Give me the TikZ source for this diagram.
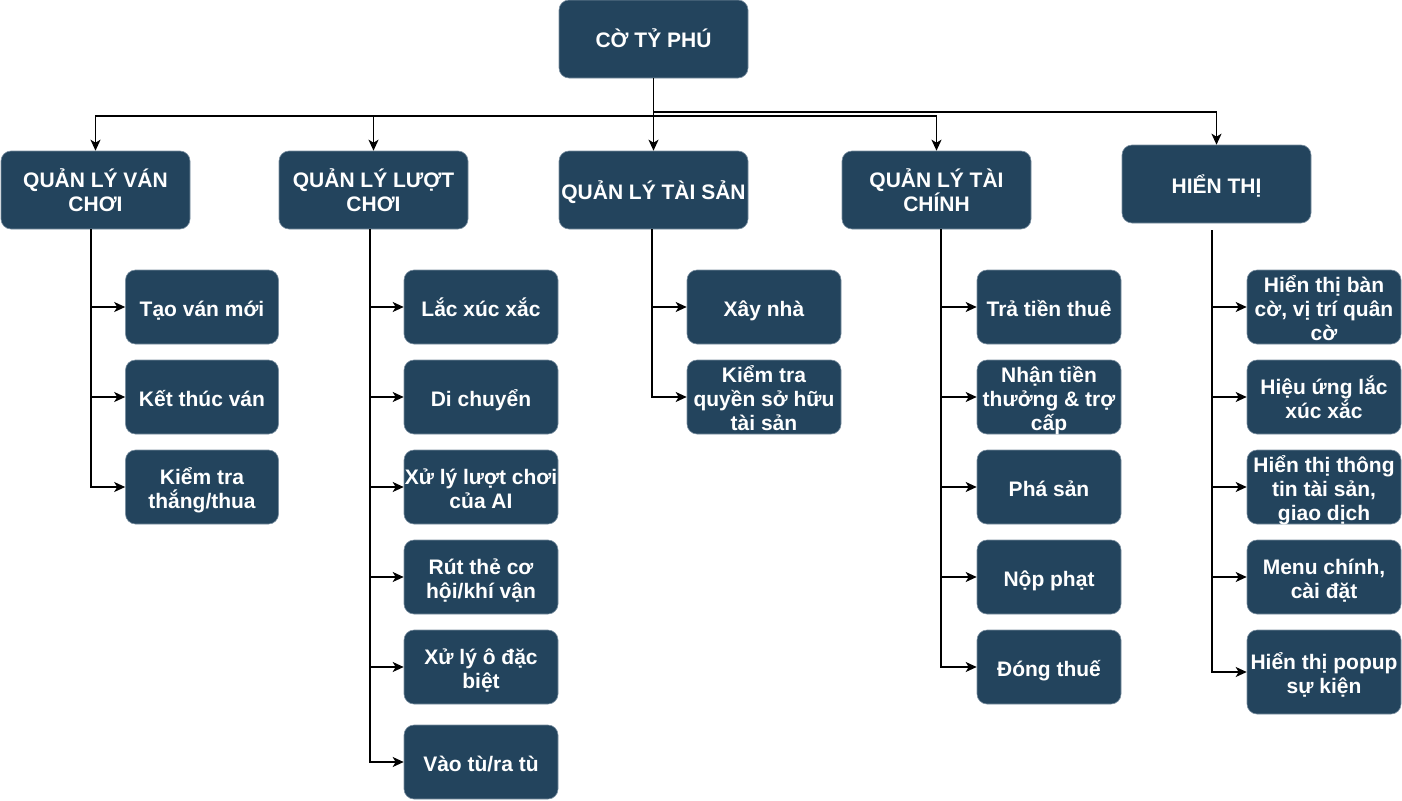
\documentclass[tikz,border=0pt]{standalone}
\usepackage{fontspec}
\setmainfont{Liberation Sans}
\usetikzlibrary{arrows.meta}
\definecolor{boxc}{HTML}{23445D}
\definecolor{edgec}{HTML}{7A8FA0}
\begin{document}
\begin{tikzpicture}[x=1pt,y=-1pt,
  box/.style={draw=edgec,line width=0.6pt,fill=boxc,rounded corners=10pt,text=white,
    font=\bfseries\fontsize{21}{24}\selectfont,align=center,inner sep=0pt},
  one/.style={text height=18pt,text depth=0pt},
  two/.style={text height=42pt,text depth=0pt},
  three/.style={text height=66pt,text depth=0pt},
  topbox/.style={box,minimum width=189pt,minimum height=78pt},
  leaf/.style={box,minimum height=74pt},
  arr/.style={line width=1.8pt,-{Stealth[length=11pt,width=10pt,inset=3pt]}}
  ]
\useasboundingbox (0,0) rectangle (1402,800);
% root and level 1
\node[topbox,one] (root) at (653.5,39) {CỜ TỶ PHÚ};
\node[topbox,two] (v1) at (95.5,190) {QUẢN LÝ VÁN\\CHƠI};
\node[topbox,two] (v2) at (373.5,190) {QUẢN LÝ LƯỢT\\CHƠI};
\node[topbox,one] (v3) at (653.5,190) {QUẢN LÝ TÀI SẢN};
\node[topbox,two] (v4) at (936.5,190) {QUẢN LÝ TÀI\\CHÍNH};
\node[topbox,one] (v5) at (1216.5,184) {HIỂN THỊ};
% column 1
\node[leaf,one,minimum width=153pt] (a1) at (202,307) {Tạo ván mới};
\node[leaf,one,minimum width=153pt] (a2) at (202,397) {Kết thúc ván};
\node[leaf,two,minimum width=153pt] (a3) at (202,487) {Kiểm tra\\thắng/thua};
% column 2
\node[leaf,one,minimum width=154pt] (b1) at (481,307) {Lắc xúc xắc};
\node[leaf,one,minimum width=154pt] (b2) at (481,397) {Di chuyển};
\node[leaf,two,minimum width=154pt] (b3) at (481,487) {Xử lý lượt chơi\\của AI};
\node[leaf,two,minimum width=154pt] (b4) at (481,577) {Rút thẻ cơ\\hội/khí vận};
\node[leaf,two,minimum width=154pt] (b5) at (481,667) {Xử lý ô đặc\\biệt};
\node[leaf,one,minimum width=154pt] (b6) at (481,762) {Vào tù/ra tù};
% column 3
\node[leaf,one,minimum width=154pt] (c1) at (764,307) {Xây nhà};
\node[leaf,three,minimum width=154pt] (c2) at (764,397) {Kiểm tra\\quyền sở hữu\\tài sản};
% column 4
\node[leaf,one,minimum width=144pt] (d1) at (1049,307) {Trả tiền thuê};
\node[leaf,three,minimum width=144pt] (d2) at (1049,397) {Nhận tiền\\thưởng \& trợ\\cấp};
\node[leaf,one,minimum width=144pt] (d3) at (1049,487) {Phá sản};
\node[leaf,one,minimum width=144pt] (d4) at (1049,577) {Nộp phạt};
\node[leaf,one,minimum width=144pt] (d5) at (1049,667) {Đóng thuế};
% column 5
\node[leaf,three,minimum width=154pt] (e1) at (1324,307) {Hiển thị bàn\\cờ, vị trí quân\\cờ};
\node[leaf,two,minimum width=154pt] (e2) at (1324,397) {Hiệu ứng lắc\\xúc xắc};
\node[leaf,three,minimum width=154pt] (e3) at (1324,487) {Hiển thị thông\\tin tài sản,\\giao dịch};
\node[leaf,two,minimum width=154pt] (e4) at (1324,577) {Menu chính,\\cài đặt};
\node[leaf,two,minimum width=154pt,minimum height=84pt] (e5) at (1324,672) {Hiển thị popup\\sự kiện};
% root connectors
\draw[arr] (root.south) -- ++(0,38) -| (v1.north);
\draw[arr] (root.south) -- ++(0,38) -| (v2.north);
\draw[arr] (root.south) -- ++(0,38) -| (v3.north);
\draw[arr] (root.south) -- ++(0,38) -| (v4.north);
\draw[arr] (root.south) -- ++(0,34) -| (v5.north);
% column connectors
\foreach \c in {a1,a2,a3}{\draw[arr] ([xshift=-4.5pt]v1.south) |- (\c.west);}
\foreach \c in {b1,b2,b3,b4,b5,b6}{\draw[arr] ([xshift=-3.5pt]v2.south) |- (\c.west);}
\foreach \c in {c1,c2}{\draw[arr] ([xshift=-1.5pt]v3.south) |- (\c.west);}
\foreach \c in {d1,d2,d3,d4,d5}{\draw[arr] ([xshift=4.5pt]v4.south) |- (\c.west);}
\foreach \c in {e1,e2,e3,e4,e5}{\draw[arr] ([xshift=-4.5pt,yshift=-7pt]v5.south) |- (\c.west);}
\end{tikzpicture}
\end{document}
